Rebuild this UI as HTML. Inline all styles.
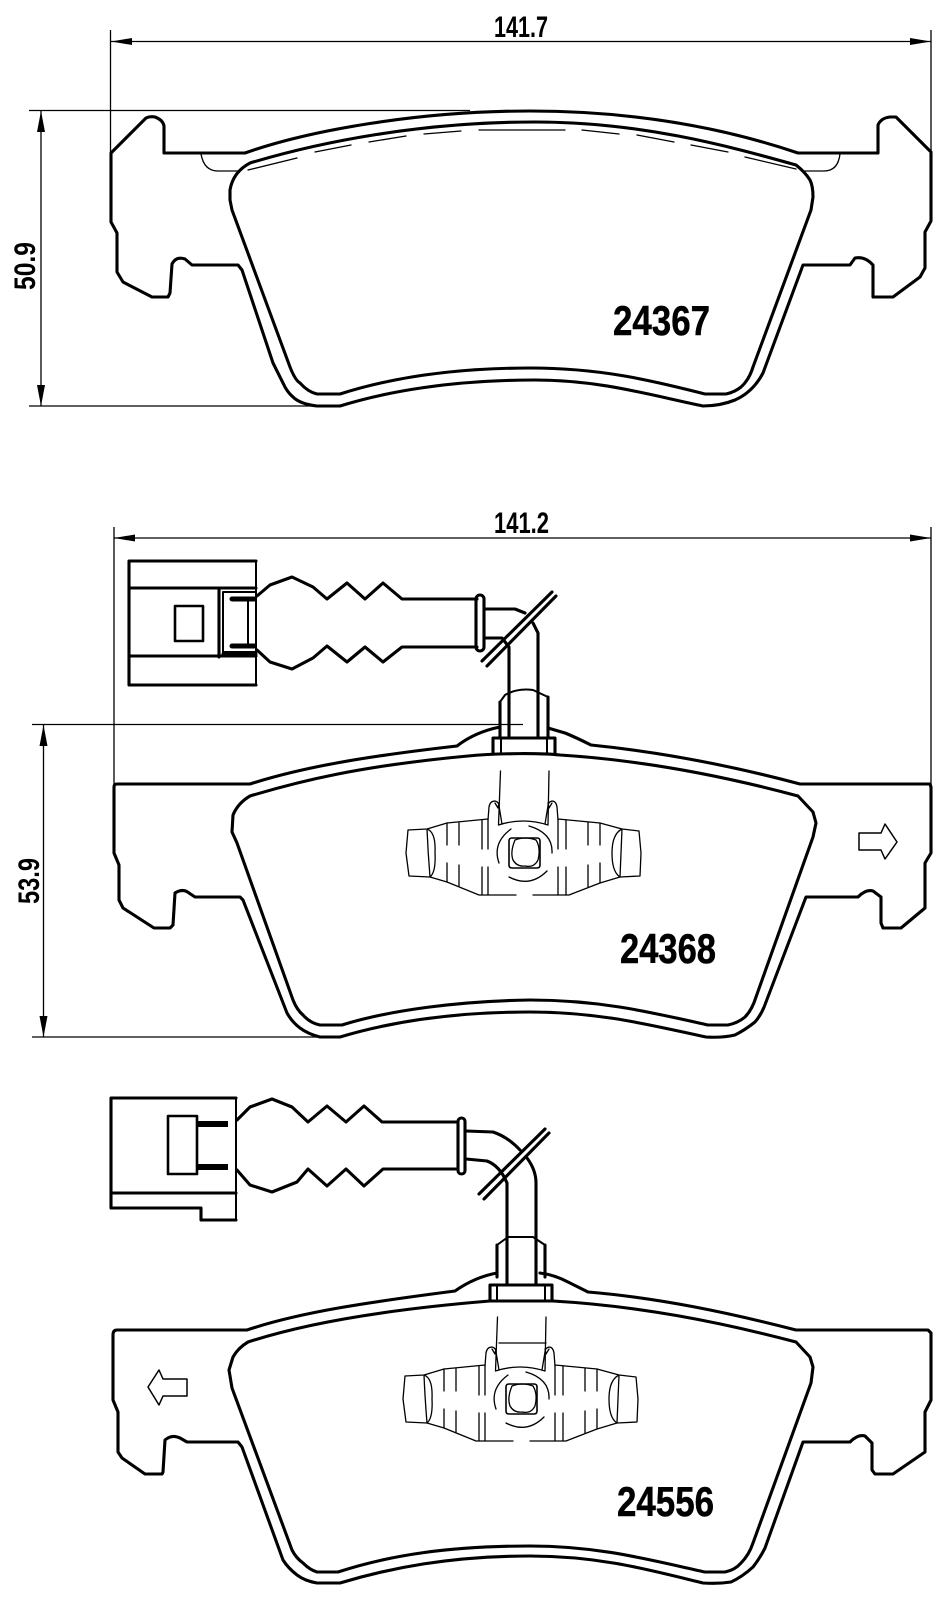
<!DOCTYPE html>
<html><head><meta charset="utf-8"><style>html,body{margin:0;padding:0;background:#fff}svg{display:block}
.o{fill:none;stroke:#000;stroke-width:3.1;stroke-linejoin:round;stroke-linecap:round}
.m{fill:none;stroke:#000;stroke-width:2;stroke-linejoin:round;stroke-linecap:round}
.t{fill:none;stroke:#000;stroke-width:1.3;stroke-linejoin:round;stroke-linecap:round}
.d{fill:none;stroke:#000;stroke-width:1.3}
.a{fill:#000}
.n{font-family:"Liberation Sans",sans-serif;font-weight:bold;font-size:42px;fill:#000;stroke:#000;stroke-width:.5}
.s{font-family:"Liberation Sans",sans-serif;font-weight:bold;font-size:30px;fill:#000}
</style></head><body>
<svg width="936" height="1600" viewBox="0 0 936 1600" xmlns="http://www.w3.org/2000/svg">
<rect width="936" height="1600" fill="#fff"/>
<defs>
<g id="det">
<path class="t" d="M500.5,771L498.5,825Q523,817 548,825L549,771"/>
<path class="t" d="M488,820L489,807Q490,801 495,801Q499,802 499,806L502,824M558,820L557,807Q556,801 552,801Q548,802 548,806L545,824"/>
<path class="t" d="M495,803L498,808L499,803M552,803L549,808L548,803"/>
<path class="t" d="M488,819L447,823L427,829L408,830L406,853L409,876L430,877L447,882L479,895L516,895M533,895L569,895L600,883L620,877L640,876L641,853L639,831L622,829L600,823L558,819"/>
<path class="t" d="M427,829Q436,832 435,853Q436,872 430,877M427,829Q428,853 430,877M622,829Q612,834 612,853Q612,872 620,877M622,829Q621,853 620,877"/>
<path class="t" d="M447,823V845M447,863V882M459,823V845M459,865V886M482,820V849M482,867V895M488,820V849M488,867V895M558,820V849M558,867V895M566,820V849M566,867V895M588,822V845M588,865V887M600,823V845M600,863V883"/>
<path class="t" d="M512,838H537Q540,838 540,841V865Q540,868 537,868H512Q509,868 509,865V841Q509,838 512,838Z" style="stroke-width:1.6"/>
<path class="t" d="M515,840Q510,852 513,860Q517,867 525,866Q534,868 538,860Q541,848 536,840Q525,836 515,840Z"/>
<path class="t" d="M499,863Q492,843 511,829M529,826Q553,833 552,853M509,877Q530,888 547,871"/>
</g>
</defs>

<!-- Pad 1 dimensions -->
<path class="d" d="M110.5,30V153M931,30V153M111,41.5H931M29,110.5H470M29,406H320M41,111V406"/>
<path class="a" d="M111,41.5L132,38V45ZM931,41.5L910,38V45ZM41,111L37,132H45ZM41,406L37,385H45Z"/>
<text class="s" x="494" y="37" textLength="54" lengthAdjust="spacingAndGlyphs">141.7</text>
<text class="s" transform="translate(35,290) rotate(-90)" textLength="48" lengthAdjust="spacingAndGlyphs">50.9</text>
<!-- Pad 1 -->
<path class="o" d="M111,153L146,118Q150,116 155,117Q163,120 164,126V153H245C310,130 420,111 530,111C640,111 730,130 798,153H878V125Q881,118 890,117H896L931,152V221L925,232V268L920,277L893,297H873V265Q865,256 855,258L850,265H803L763,373Q753,392 735,400Q720,406 703,406C650,395 600,380 535,380C450,380 385,392 340,406H317Q300,404 293,397Q287,392 283,383L273,363L242,270L238,265H192L185,259Q176,256 172,264L170,293L168,297H152L123,282L117,272V233L111,222Z"/>
<path class="o" d="M250,163Q233,172 230,190V200L232,210L290,367Q295,380 300,383Q308,392 317,394H340C390,378 450,368 530,368C600,368 650,380 705,394H726Q735,392 741,387Q749,380 753,367L811,210L813,197Q813,186 810,180Q805,172 796,165C725,145 640,122 535,122C420,122 320,142 250,163Z"/>
<path class="t" d="M248,170L297,158M315,152L351,145M369,142L406,136M424,134L461,131M479,130H565M582,130L619,134M637,135L674,142M691,145L728,152M745,157L796,169"/>
<path class="t" d="M201,154Q204,171 218,171H240M840,154Q838,171 824,171H805"/>
<text class="n" x="613" y="335" textLength="97" lengthAdjust="spacingAndGlyphs">24367</text>

<!-- Pad 2 dimensions -->
<path class="d" d="M114,527V785M931,527V785M114,538H931M32,724.5H523M32,1037H320M43.5,725V1037"/>
<path class="a" d="M114,538L135,534.5V541.5ZM931,538L910,534.5V541.5ZM43.5,725L39.5,746H47.5ZM43.5,1037L39.5,1016H47.5Z"/>
<text class="s" x="494" y="533" textLength="55" lengthAdjust="spacingAndGlyphs">141.2</text>
<text class="s" transform="translate(39,904) rotate(-90)" textLength="46" lengthAdjust="spacingAndGlyphs">53.9</text>
<!-- Pad 2 connector -->
<path class="o" d="M129,561H256M129,561V685H256M129,588H256M129,656H256M219,588V657"/>
<path class="m" d="M256,561V685"/>
<rect class="o" x="175" y="606" width="28" height="35" style="stroke-width:2.6"/>
<path class="m" d="M255,592H223V652H255"/>
<path class="o" style="stroke-width:5" d="M232,599H254M232,646H254M224,654H255"/>
<path class="m" d="M248,599V646"/>
<path class="o" d="M257,596L270,585L292,577L313,587L327,599L347,583L365,599L383,583L402,599H477M257,650L270,662L292,669L313,658L327,646L347,662L365,647L383,662L402,647H477"/>
<rect class="o" x="476" y="595" width="8" height="56" rx="4"/>
<path class="o" d="M485,609H515L525,613M533,623L538,633V737M485,638H502L509,647V737"/>
<path class="o" d="M482,661L552,592M487,666L556,596"/>
<path class="m" d="M500,737V702L505,695Q517,688 533,690L548,697V737"/>
<path class="o" d="M500,702V737M548,697V737"/>
<path class="o" d="M493,753V738H555V753"/>
<path class="m" d="M501,738V753M547,738V753"/>
<!-- Pad 2 -->
<path class="o" d="M500,727Q475,732 457,746C360,757 300,768 250,784H117Q114,784 114,787V853L119,865V900L123,908L154,928H170L173,925L175,893Q183,888 189,893L195,897H240L243,900L287,1013Q292,1022 300,1028Q308,1034 320,1037H340C390,1022 450,1012 530,1012C600,1012 650,1025 706,1037Q722,1038 735,1035Q745,1030 755,1022Q762,1014 766,1002L806,897H858Q866,889 873,891L881,897V923L883,928H901L925,908V863L931,853V787L930,784H800C740,768 670,753 591,745Q575,737 565,733L548,728"/>
<path class="o" d="M250,796Q238,803 233,815L232,832L237,843L293,1000Q297,1010 303,1015Q310,1023 320,1025H342C390,1010 460,1001 530,1000C600,1000 650,1012 708,1025H728Q738,1023 745,1017Q752,1010 756,997L813,837L816,823L813,812L798,796C720,775 640,760 560,755C540,753 500,753 468,756C360,766 300,781 250,796Z"/>
<use href="#det"/>
<path class="t" style="stroke-width:1.5" d="M859,833H881L885,824L897,842L885,859L881,850H859Z"/>
<text class="n" x="620" y="963" textLength="96" lengthAdjust="spacingAndGlyphs">24368</text>

<!-- Pad 3 connector -->
<path class="o" d="M111,1098H236M111,1098V1208H201V1220H236M111,1193H236"/>
<path class="m" d="M236,1098V1220"/>
<rect class="o" x="168" y="1116" width="29" height="58" style="stroke-width:2.6"/>
<path class="o" style="stroke-width:6;stroke-linecap:butt" d="M197,1124H228M197,1167H228"/>
<path class="o" d="M237,1120L250,1107L272,1099L292,1107L308,1122L327,1106L346,1122L364,1106L382,1122H457M237,1170L250,1185L272,1192L297,1182L308,1169L327,1186L346,1169L364,1186L383,1169H457"/>
<rect class="o" x="458" y="1118" width="7" height="56" rx="3.5"/>
<path class="o" d="M466,1131L493,1132Q508,1137 520,1150M527,1158Q536,1170 536,1183V1284M466,1159L487,1161Q500,1166 507,1183V1284"/>
<path class="o" d="M479,1194L545,1129M484,1199L549,1133"/>
<path class="m" d="M497,1245L508,1237H533L545,1245V1277M497,1245V1277"/>
<path class="o" d="M497,1245V1277M545,1245V1277"/>
<path class="o" d="M490,1300V1285H552V1300"/>
<path class="m" d="M497,1285V1300M545,1285V1300"/>
<!-- Pad 3 -->
<path class="o" d="M497,1273Q475,1277 455,1291C370,1302 300,1312 247,1330H117Q113,1330 113,1335V1400L118,1412V1452L122,1458L145,1474H162L163,1472L165,1440Q172,1434 180,1438L187,1442H238L242,1447L283,1560Q288,1568 297,1575Q305,1581 317,1583H340C390,1568 450,1556 530,1556C600,1556 650,1570 703,1583Q718,1584 731,1582Q742,1577 753,1567Q760,1558 765,1548L803,1442H850Q858,1434 865,1436L872,1443V1470L875,1474H893L925,1452V1412L931,1400V1333L928,1330H796C730,1313 660,1298 588,1292L568,1282Q555,1275 540,1273"/>
<path class="o" d="M248,1342Q238,1348 233,1357L229,1370L232,1388L292,1550Q296,1558 303,1563Q310,1570 317,1572H338C390,1555 450,1546 530,1546C600,1546 650,1560 705,1572H725Q735,1570 741,1563Q749,1555 753,1543L811,1383L813,1367L810,1357L796,1342C720,1322 640,1306 553,1301H490C380,1310 300,1325 248,1342Z"/>
<use href="#det" transform="translate(-3,546)"/>
<path class="t" d="M499,1343H546"/>
<path class="t" style="stroke-width:1.5" d="M187,1379H163L159,1370L148,1387L159,1405L163,1396H187Z"/>
<text class="n" x="617" y="1516" textLength="97" lengthAdjust="spacingAndGlyphs">24556</text>
</svg>
</body></html>
